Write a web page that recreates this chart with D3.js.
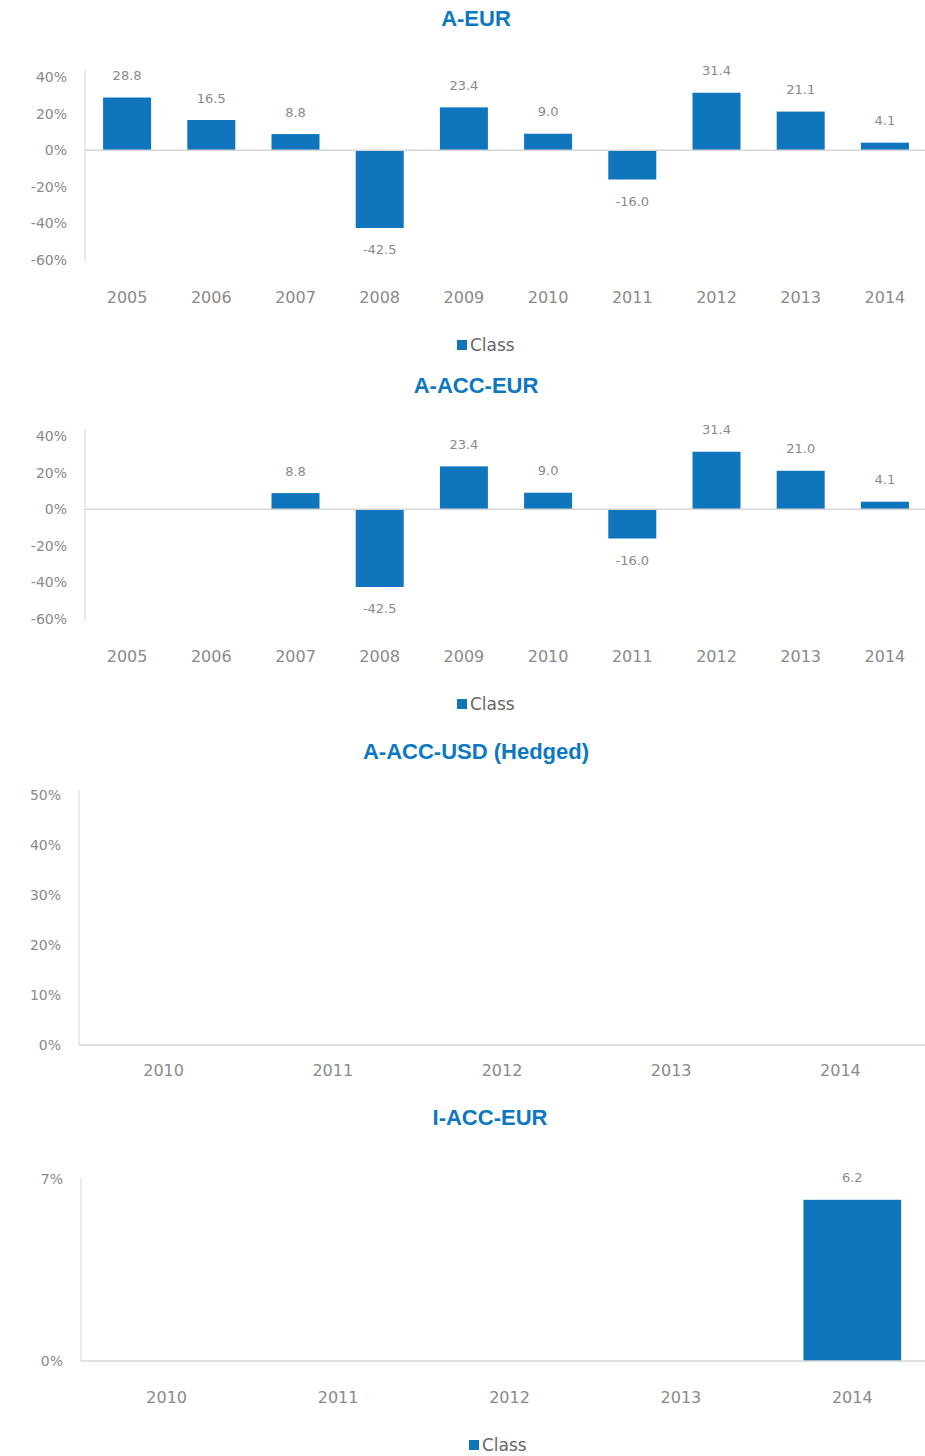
<!DOCTYPE html>
<html>
<head>
<meta charset="utf-8">
<style>
    body { margin: 0; background: #fff; }
    svg { display: block; }
    .title { font-family: 'Liberation Sans', Arial, sans-serif; font-weight: bold; font-size: 22px; fill: #0b78c1; }
    .tick text, .lbl, .val { font-family: 'DejaVu Sans', sans-serif; fill: #8a8a8a; }
    .legend text { font-family: 'DejaVu Sans', sans-serif; fill: #666; font-size: 17px; }
</style>
</head>
<body>
<svg width="925" height="1456"></svg>
<script src="https://d3js.org/d3.v7.min.js"></script>
<script>
    // data
    let yearsLong = ["2005", "2006", "2007", "2008", "2009", "2010", "2011", "2012", "2013", "2014"]
    let yearsShort = ["2010", "2011", "2012", "2013", "2014"]
    let aEur = [28.8, 16.5, 8.8, -42.5, 23.4, 9.0, -16.0, 31.4, 21.1, 4.1]
    let aAccEur = [null, null, 8.8, -42.5, 23.4, 9.0, -16.0, 31.4, 21.0, 4.1]
    let aAccUsd = [null, null, null, null, null]
    let iAccEur = [null, null, null, null, 6.2]
    let ticksWide = [40, 20, 0, -20, -40, -60]
    let ticksUsd = [50, 40, 30, 20, 10, 0]
    let ticksI = [7, 0]

    let svg = d3.select("svg")
    let barColor = "#0f75bc"

    function chart(opt) {
        let g = svg.append("g")

        g.append("text").attr("class", "title")
            .attr("x", opt.titleX).attr("y", opt.titleY)
            .attr("text-anchor", "middle").attr("dominant-baseline", "central")
            .text(opt.title)

        let x = d3.scaleBand().domain(opt.cats).range([opt.left, opt.right]).paddingInner(0.43).paddingOuter(0.215)
        let y = d3.scaleLinear().domain(opt.domain).range([opt.bottom, opt.top])

        // y axis
        let ya = g.append("g").attr("transform", `translate(${opt.left},0)`)
            .call(d3.axisLeft(y).tickValues(opt.ticks).tickSize(0).tickPadding(opt.tickPad).tickFormat(d => d + "%"))
        ya.select(".domain").remove()
        ya.selectAll("text").style("font-size", "14px")
        g.append("line")
            .attr("x1", opt.left).attr("x2", opt.left)
            .attr("y1", opt.axisTop).attr("y2", opt.bottom + opt.axisExtra)
            .style("stroke", "#dcdcdc").style("stroke-width", 1.2)

        // bars
        let data = opt.cats.map((c, i) => ({ c: c, v: opt.values[i] })).filter(d => d.v != null)
        g.selectAll(".bar").data(data).join("rect")
            .attr("x", d => x(d.c))
            .attr("width", x.bandwidth())
            .attr("y", d => y(Math.max(0, d.v)))
            .attr("height", d => Math.abs(y(d.v) - y(0)))
            .style("fill", barColor)

        // zero line
        g.append("line")
            .attr("x1", opt.left).attr("x2", 925)
            .attr("y1", y(0)).attr("y2", y(0))
            .style("stroke", "#d6d6d6").style("stroke-width", 1.5)

        // value labels
        g.selectAll(".val").data(data).join("text")
            .attr("class", "val")
            .attr("x", d => x(d.c) + x.bandwidth() / 2)
            .attr("y", d => d.v >= 0 ? y(d.v) - 22 : y(d.v) + 22)
            .attr("text-anchor", "middle").attr("dominant-baseline", "central")
            .style("font-size", "13px")
            .text(d => d.v.toFixed(1))

        // x labels
        g.selectAll(".lbl").data(opt.cats).join("text")
            .attr("class", "lbl")
            .attr("x", d => x(d) + x.bandwidth() / 2)
            .attr("y", opt.labelY)
            .attr("text-anchor", "middle").attr("dominant-baseline", "central")
            .style("font-size", "16px")
            .text(d => d)

        if (opt.legendY) {
            let lg = g.append("g").attr("class", "legend")
            lg.append("rect").attr("x", opt.legendX).attr("y", opt.legendY - 5).attr("width", 10).attr("height", 10).style("fill", barColor)
            lg.append("text").attr("x", opt.legendX + 13).attr("y", opt.legendY).attr("dominant-baseline", "central").text("Class")
        }
    }

    chart({ title: "A-EUR", titleX: 476, titleY: 18, cats: yearsLong, values: aEur,
        left: 85, right: 927, top: 77, bottom: 260, domain: [-60, 40], ticks: ticksWide, tickPad: 18,
        axisTop: 70, axisExtra: 2, labelY: 297, legendX: 457, legendY: 345 })

    chart({ title: "A-ACC-EUR", titleX: 476, titleY: 385, cats: yearsLong, values: aAccEur,
        left: 85, right: 927, top: 436, bottom: 619, domain: [-60, 40], ticks: ticksWide, tickPad: 18,
        axisTop: 429, axisExtra: 2, labelY: 656, legendX: 457, legendY: 704 })

    chart({ title: "A-ACC-USD (Hedged)", titleX: 476, titleY: 751, cats: yearsShort, values: aAccUsd,
        left: 79, right: 925, top: 795, bottom: 1045, domain: [0, 50], ticks: ticksUsd, tickPad: 18,
        axisTop: 790, axisExtra: 0, labelY: 1070, legendX: null, legendY: null })

    chart({ title: "I-ACC-EUR", titleX: 490, titleY: 1117, cats: yearsShort, values: iAccEur,
        left: 81, right: 938, top: 1179, bottom: 1361, domain: [0, 7], ticks: ticksI, tickPad: 18,
        axisTop: 1178, axisExtra: 0, labelY: 1397, legendX: 469, legendY: 1445 })
</script>
</body>
</html>
